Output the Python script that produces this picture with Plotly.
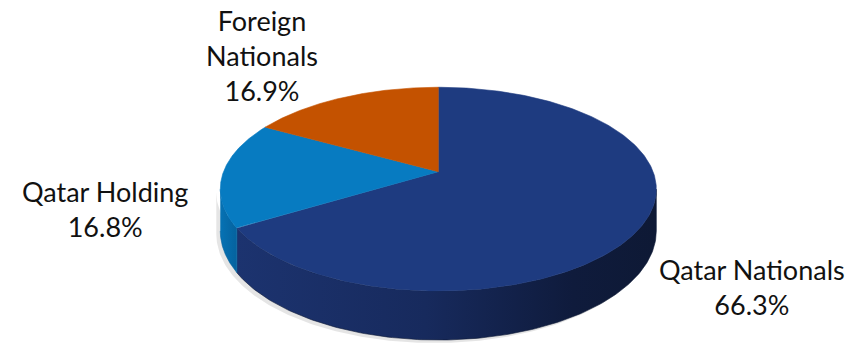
import numpy as np
import plotly.graph_objects as go

# ---- data ----
labels = ["Qatar Nationals", "Qatar Holding", "Foreign Nationals"]
values = [66.3, 16.8, 16.9]
label_lines = ["Qatar Nationals", "Qatar Holding", "Foreign<br>Nationals"]

# ---- style ----
top_colors = ["#1E3B80", "#077BC1", "#C45200"]
side_scales = [
    [[0, "#1C336F"], [0.45, "#172A5D"], [0.8, "#0F1B3C"], [1, "#0E1935"]],
    [[0, "#0672B4"], [1, "#05629E"]],
    [[0, "#9A4000"], [1, "#9A4000"]],
]
label_pos = [(752, 287), (105, 209), (262, 55)]

W, H = 861, 343
CX, CY = 438.3, 171.7      # projected pie centre
A, B, K = 214.8, 98.9, 0.1713  # perspective projection params
D = 40.6                   # thickness


def top_pt(th):
    s, c = np.sin(th), np.cos(th)
    return CX + A * c / (1 + K * s), CY - B * s / (1 + K * s)


def bot_pt(th):
    s, c = np.sin(th), np.cos(th)
    return CX + A * c / (1 + K * s), CY + (D - B * s) / (1 + K * s)


total = sum(values)
# clockwise from 12 o'clock
starts, ends = [], []
ang = np.pi / 2
for v in values:
    sweep = 2 * np.pi * v / total
    starts.append(ang)
    ends.append(ang - sweep)
    ang -= sweep

fig = go.Figure()

delta = np.arcsin(K)
vis_lo, vis_hi = -np.pi + delta, -delta

# shadow
th = np.linspace(vis_lo, vis_hi, 200)
ux, vy = bot_pt(th)
tx, ty = top_pt(th)
fig.add_trace(go.Scatter(
    x=np.concatenate([tx - 4, ux[::-1] - 4]), y=np.concatenate([ty + 3, vy[::-1] + 3]),
    fill="toself", fillcolor="rgba(0,0,0,0.10)", line=dict(width=0), mode="lines",
    hoverinfo="skip", showlegend=False))

# walls
for i in range(len(values)):
    a, b = ends[i], starts[i]
    # normalise to the [-2pi, pi] frame and intersect with visible range
    for shift in (0, -2 * np.pi, 2 * np.pi):
        lo, hi = max(a + shift, vis_lo), min(b + shift, vis_hi)
        if hi > lo:
            th = np.linspace(lo, hi, 150)
            tx, ty = top_pt(th)
            bx, by = bot_pt(th)
            fig.add_trace(go.Scatter(
                x=np.concatenate([tx, bx[::-1]]), y=np.concatenate([ty, by[::-1]]),
                fill="toself",
                fillgradient=dict(type="horizontal", colorscale=side_scales[i]),
                line=dict(width=0.6, color=side_scales[i][-1][1]), mode="lines",
                hoverinfo="skip", showlegend=False))

# tops
for i in range(len(values)):
    th = np.linspace(starts[i], ends[i], 300)
    tx, ty = top_pt(th)
    fig.add_trace(go.Scatter(
        x=np.concatenate([[CX], tx, [CX]]), y=np.concatenate([[CY], ty, [CY]]),
        fill="toself", fillcolor=top_colors[i],
        line=dict(width=0.6, color=top_colors[i]), mode="lines",
        name=labels[i], hoverinfo="skip", showlegend=False))

for i in range(len(values)):
    fig.add_annotation(
        x=label_pos[i][0], y=label_pos[i][1], xref="x", yref="y",
        text=f"{label_lines[i]}<br>{values[i]:.1f}%", showarrow=False,
        font=dict(family="Lato", size=27, color="#111111"), align="center")

fig.update_layout(
    width=W, height=H, margin=dict(l=0, r=0, t=0, b=0),
    paper_bgcolor="white", plot_bgcolor="white",
    xaxis=dict(range=[0, W], visible=False, fixedrange=True),
    yaxis=dict(range=[H, 0], visible=False, fixedrange=True),
)
fig.write_html("out.html")
